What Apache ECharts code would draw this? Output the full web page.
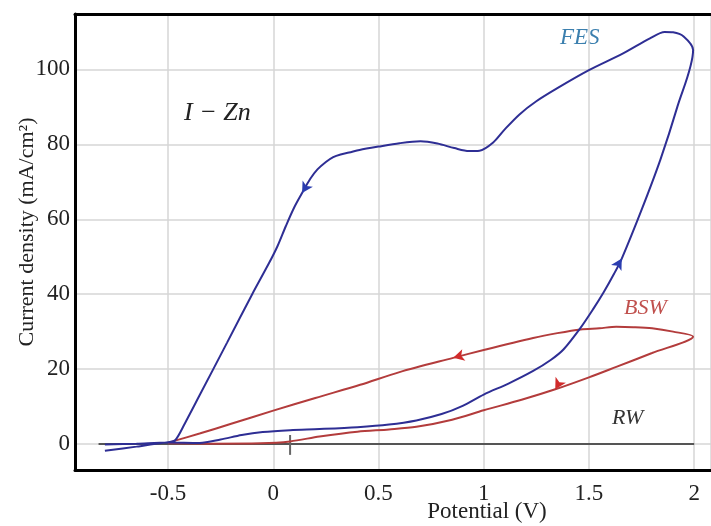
<!DOCTYPE html>
<html>
<head>
<meta charset="utf-8">
<script src="https://cdn.jsdelivr.net/npm/echarts@6/dist/echarts.min.js"></script>
<style>
  html, body { margin: 0; padding: 0; background: #fff; }
  #main { width: 711px; height: 526px; }
</style>
</head>
<body>
<div id="main"></div>
<script>
// FES loop: forward scan then reverse scan
var fesFwd = [
  [-0.80, -0.1], [-0.65, 0.1], [-0.5, 0.4], [-0.35, 0.3], [-0.25, 1.2], [-0.15, 2.4],
  [-0.05, 3.2], [0.08, 3.7], [0.22, 4.0], [0.40, 4.5], [0.55, 5.2], [0.68, 6.3],
  [0.80, 8.0], [0.90, 10.2], [1.0, 13.2], [1.12, 16.2], [1.235, 19.5], [1.32, 22.5],
  [1.38, 25.3], [1.46, 31], [1.52, 36], [1.57, 40.5], [1.62, 45.5], [1.656, 49.5],
  [1.75, 62.5], [1.84, 76], [1.92, 90], [1.995, 105.2]
];
var fesRev = [
  [1.995, 105.2], [1.95, 108.8], [1.90, 109.9], [1.86, 110], [1.79, 108.3], [1.66, 104.2],
  [1.5, 99.8], [1.35, 95], [1.25, 91.5], [1.17, 88], [1.1, 84], [1.045, 80.5], [0.98, 78.3],
  [0.93, 78.2], [0.86, 79], [0.78, 80.2], [0.70, 80.8], [0.60, 80.3], [0.5, 79.4],
  [0.41, 78.5], [0.36, 77.8], [0.32, 77.3], [0.285, 76.6], [0.25, 75.3], [0.21, 73.3],
  [0.176, 70.8], [0.137, 67], [0.1, 63.2], [0.06, 58.2], [0.02, 52.8], [-0.02, 48.3],
  [-0.1, 40], [-0.22, 27], [-0.35, 13], [-0.42, 5.5], [-0.466, 1],
  [-0.5, 0.5], [-0.65, -0.7], [-0.80, -1.8]
];
// BSW loop
var bswFwd = [
  [-0.5, 0.2], [-0.3, 0.1], [-0.06, 0.2], [0.08, 0.7], [0.22, 2.0], [0.4, 3.3],
  [0.55, 3.9], [0.68, 4.6], [0.85, 6.5], [1.0, 9], [1.18, 11.8], [1.34, 14.6],
  [1.5, 17.8], [1.63, 20.6], [1.8, 24.3], [1.995, 28.7]
];
var bswRev = [
  [1.995, 28.7], [1.9, 30.0], [1.8, 30.9], [1.71, 31.2], [1.63, 31.3], [1.55, 30.9],
  [1.46, 30.6], [1.35, 29.6], [1.235, 28.3], [1.0, 25.1], [0.855, 23], [0.6, 19.2],
  [0.413, 15.8], [0.2, 12.3], [0, 8.9], [-0.2, 5.4], [-0.35, 2.8], [-0.466, 0.9], [-0.5, 0.3]
];
// RW stays flat
var rw = [[-0.83, 0], [2.0, 0]];
var startMark = [[0.08, -2.9], [0.08, 2.4]];

var serif = 'Liberation Serif';
var xMin = -0.942, xMax = 2.08;
var yMin = -6.94, yMax = 114.8;

function pick(arr, x) {
  return arr.filter(function (p) { return p[0] === x; })[0];
}

var chart = echarts.init(document.getElementById('main'), null, { renderer: 'canvas' });

var gridLine = { lineStyle: { color: '#d6d6d6', width: 1.5 } };
var frame = { show: true, onZero: false, lineStyle: { color: '#000', width: 3 } };

var option = {
  backgroundColor: '#ffffff',
  animation: false,
  grid: { left: 75, top: 14, right: 0, bottom: 56 },
  xAxis: [
    {
      type: 'value', min: xMin, max: xMax, position: 'bottom',
      axisLine: frame,
      axisTick: { show: false },
      splitLine: gridLine,
      axisLabel: {
        showMinLabel: false, showMaxLabel: false,
        fontFamily: serif, fontSize: 23, color: '#222', margin: 12
      }
    },
    {
      type: 'value', min: xMin, max: xMax, position: 'top',
      axisLine: frame,
      axisTick: { show: false },
      splitLine: { show: false },
      axisLabel: { show: false }
    }
  ],
  yAxis: {
    type: 'value', min: yMin, max: yMax,
    axisLine: frame,
    axisTick: { show: false },
    splitLine: gridLine,
    axisLabel: {
      showMinLabel: false, showMaxLabel: false,
      fontFamily: serif, fontSize: 23, color: '#222', margin: 5
    }
  },
  graphic: [
    {
      type: 'text', x: 27, y: 232, rotation: Math.PI / 2,
      style: {
        text: 'Current density (mA/cm²)', fontFamily: serif, fontSize: 22,
        fill: '#222', align: 'center', verticalAlign: 'middle'
      }
    },
    {
      type: 'text', x: 487, y: 512,
      style: {
        text: 'Potential (V)', fontFamily: serif, fontSize: 23,
        fill: '#222', align: 'center', verticalAlign: 'middle'
      }
    },
    {
      type: 'text', x: 184, y: 113,
      style: {
        text: 'I − Zn', fontFamily: serif, fontStyle: 'italic', fontSize: 26,
        fill: '#222', align: 'left', verticalAlign: 'middle'
      }
    },
    {
      type: 'text', x: 560, y: 38,
      style: {
        text: 'FES', fontFamily: serif, fontStyle: 'italic', fontSize: 23,
        fill: '#3b7fae', align: 'left', verticalAlign: 'middle'
      }
    },
    {
      type: 'text', x: 624, y: 308,
      style: {
        text: 'BSW', fontFamily: serif, fontStyle: 'italic', fontSize: 22,
        fill: '#c0504d', align: 'left', verticalAlign: 'middle'
      }
    },
    {
      type: 'text', x: 612, y: 418,
      style: {
        text: 'RW', fontFamily: serif, fontStyle: 'italic', fontSize: 22,
        fill: '#333', align: 'left', verticalAlign: 'middle'
      }
    }
  ],
  series: [
    {
      name: 'RW', type: 'line', data: rw, showSymbol: false,
      lineStyle: { color: '#555', width: 2 }
    },
    {
      name: 'start', type: 'line', data: startMark, showSymbol: false,
      lineStyle: { color: '#666', width: 2 }
    },
    {
      name: 'BSW', type: 'line', data: bswFwd.concat(bswRev.slice(1)),
      showSymbol: false, smooth: 0.3,
      lineStyle: { color: '#b33c3c', width: 2 },
      markPoint: {
        symbol: 'arrow', symbolSize: [9, 11], itemStyle: { color: '#d12b2b' },
        label: { show: false },
        data: [
          { coord: pick(bswRev, 0.855), symbolRotate: 105 },
          { coord: pick(bswFwd, 1.34), symbolRotate: 150 }
        ]
      }
    },
    {
      name: 'FES', type: 'line', data: fesFwd.concat(fesRev.slice(1)),
      showSymbol: false, smooth: 0.3,
      lineStyle: { color: '#2e2e94', width: 2 },
      markPoint: {
        symbol: 'arrow', symbolSize: [9, 11], itemStyle: { color: '#2b3db0' },
        label: { show: false },
        data: [
          { coord: pick(fesRev, 0.137), symbolRotate: 149 },
          { coord: pick(fesFwd, 1.656), symbolRotate: -30 }
        ]
      }
    }
  ]
};

chart.setOption(option);
</script>
</body>
</html>
